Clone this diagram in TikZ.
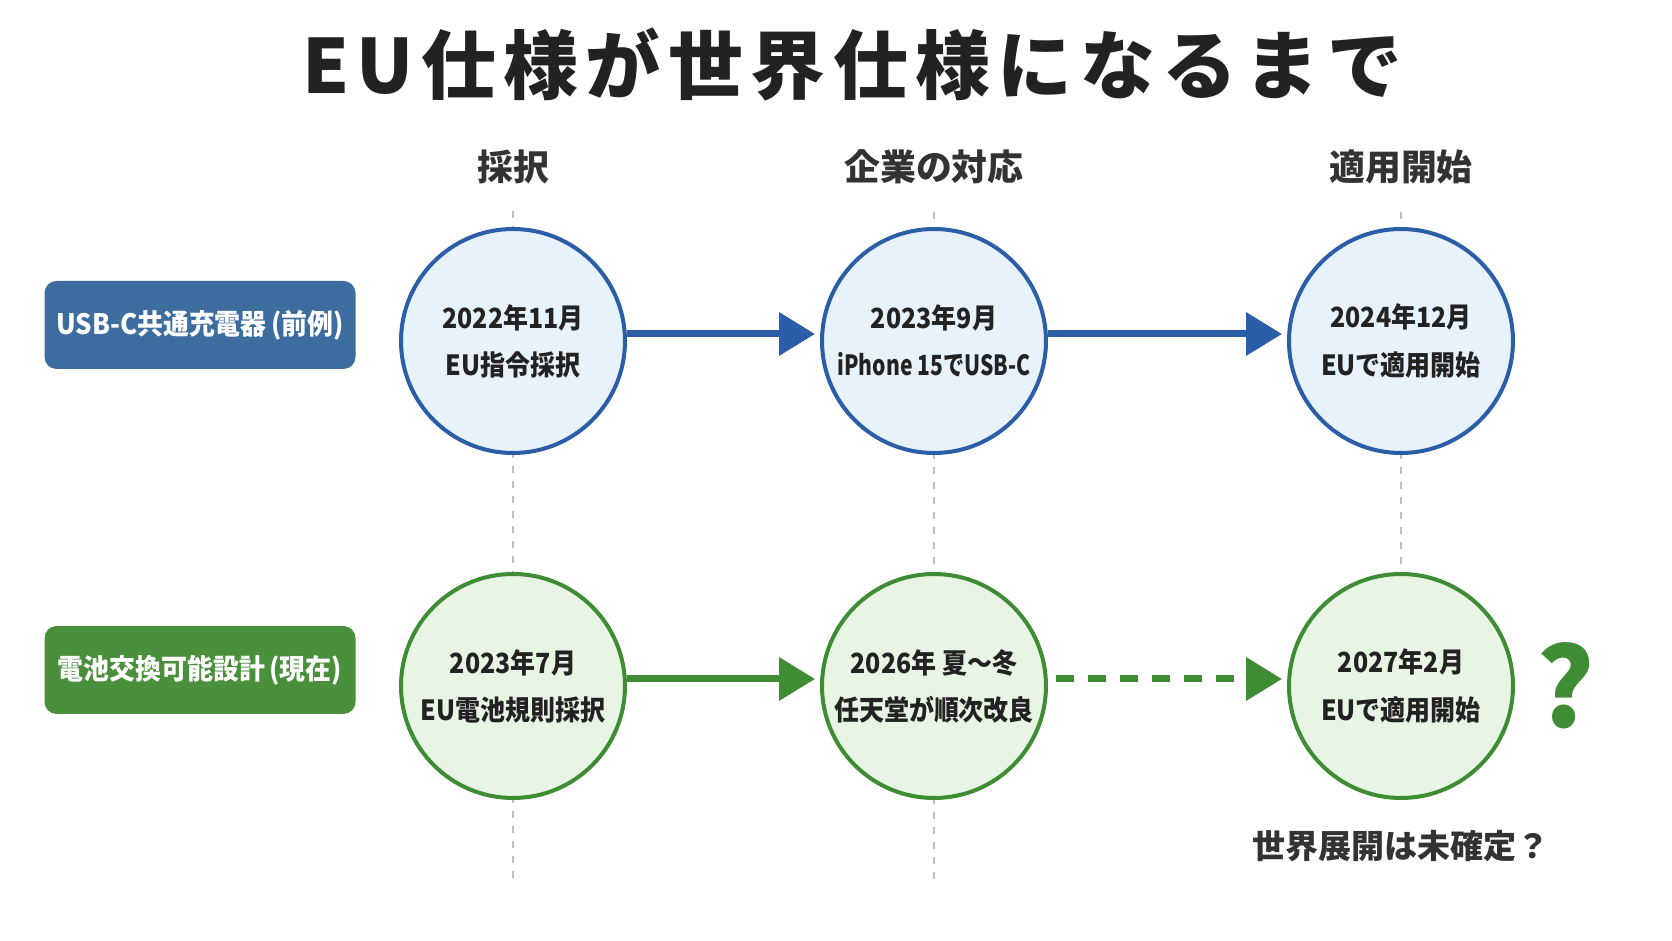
\documentclass[tikz,border=0pt]{standalone}
\usepackage{fontspec}
\setmainfont{Noto Sans CJK JP}
\usetikzlibrary{arrows.meta, calc, positioning}

\definecolor{textdark}{RGB}{34,34,34}
\definecolor{headgray}{RGB}{51,51,51}
\definecolor{guidegray}{RGB}{190,190,190}
\definecolor{usbbox}{RGB}{61,108,158}
\definecolor{usbline}{RGB}{44,94,168}
\definecolor{usbfill}{RGB}{232,242,251}
\definecolor{batbox}{RGB}{74,143,60}
\definecolor{batline}{RGB}{62,140,52}
\definecolor{batfill}{RGB}{233,245,228}

\newcommand{\circfont}{\bfseries\addfontfeatures{FakeStretch=0.9}\fontsize{7.9}{13.4}\selectfont}
\newcommand{\headfont}{\bfseries\fontsize{10.2}{12}\selectfont}
\newcommand{\narrow}[1]{{\addfontfeatures{FakeStretch=0.76}#1}}

\tikzstyle{rowlabel} = [rectangle, rounded corners=1.2mm, minimum width=31.1mm,
	minimum height=8.8mm, inner sep=0.5mm, text=white,
	font=\bfseries\addfontfeatures{FakeStretch=0.92}\fontsize{8}{10}\selectfont]
\tikzstyle{usbstep} = [circle, draw=usbline, fill=usbfill, line width=0.4mm,
	minimum size=22.4mm, inner sep=0pt, align=center, text=textdark, font=\circfont]
\tikzstyle{batstep} = [usbstep, draw=batline, fill=batfill]
\tikzstyle{phase} = [text=headgray, font=\headfont]
\tikzstyle{guide} = [guidegray, line width=0.15mm, dash pattern=on 0.7mm off 0.8mm]
\tikzstyle{usbarrow} = [-{Triangle[length=3.6mm, width=4.2mm]}, usbline, line width=0.7mm]
\tikzstyle{batarrow} = [-{Triangle[length=3.6mm, width=4.2mm]}, batline, line width=0.7mm]

\begin{document}
\begin{tikzpicture}[x=0.1mm, y=-0.1mm]
	\useasboundingbox (0,0) rectangle (1672,941);
	\fill[white] (0,0) rectangle (1672,941);

	\node (title) [text=textdark, font=\bfseries\fontsize{21.3}{24}\addfontfeatures{LetterSpace=10}\selectfont] at (852,65) {EU仕様が世界仕様になるまで};

	\node (hdr1) [phase] at (513,167) {採択};
	\node (hdr2) [phase] at (934,167) {企業の対応};
	\node (hdr3) [phase] at (1401,167) {適用開始};

	\coordinate (end1) at (513,880);
	\coordinate (end2) at (934,880);
	\coordinate (end3) at (1401,686);
	\draw [guide] ([yshift=-1.5mm]hdr1.south) -- (end1);
	\draw [guide] ([yshift=-1.5mm]hdr2.south) -- (end2);
	\draw [guide] ([yshift=-1.5mm]hdr3.south) -- (end3);

	\node (usb) [rowlabel, fill=usbbox] at (200,325) {USB-C共通充電器\,(前例)};
	\node (bat) [rowlabel, fill=batbox] at (200,670) {電池交換可能設計\,(現在)};

	% USB-C row
	\node (usb1) [usbstep] at (513,341) {2022年11月\\EU指令採択};
	\node (usb2) [usbstep] at (934,341) {2023年9月\\\narrow{iPhone 15でUSB-C}};
	\node (usb3) [usbstep] at (1401,341) {2024年12月\\EUで適用開始};

	% battery row
	\node (bat1) [batstep] at (513,686) {2023年7月\\EU電池規則採択};
	\node (bat2) [batstep] at (934,686) {2026年 夏〜冬\\任天堂が順次改良};
	\node (bat3) [batstep] at (1401,686) {2027年2月\\EUで適用開始};

	\draw [usbarrow] ([yshift=0.7mm]usb1.east) -- ([yshift=0.7mm, xshift=-0.5mm]usb2.west);
	\draw [usbarrow] ([yshift=0.7mm]usb2.east) -- ([yshift=0.7mm, xshift=-0.5mm]usb3.west);
	\draw [batarrow] ([yshift=0.7mm]bat1.east) -- ([yshift=0.7mm, xshift=-0.5mm]bat2.west);
	\draw [batarrow, dash pattern=on 1.8mm off 1.4mm] ([yshift=0.7mm, xshift=0.8mm]bat2.east) -- ([yshift=0.7mm, xshift=-0.5mm]bat3.west);

	\node (unknown) [text=batline, font=\bfseries\fontsize{31}{34}\selectfont] at (1566,686) {?};
	\node (note) [text=headgray, font=\bfseries\fontsize{9.4}{11}\selectfont, below=1.8mm of bat3] {世界展開は未確定？};
\end{tikzpicture}
\end{document}
